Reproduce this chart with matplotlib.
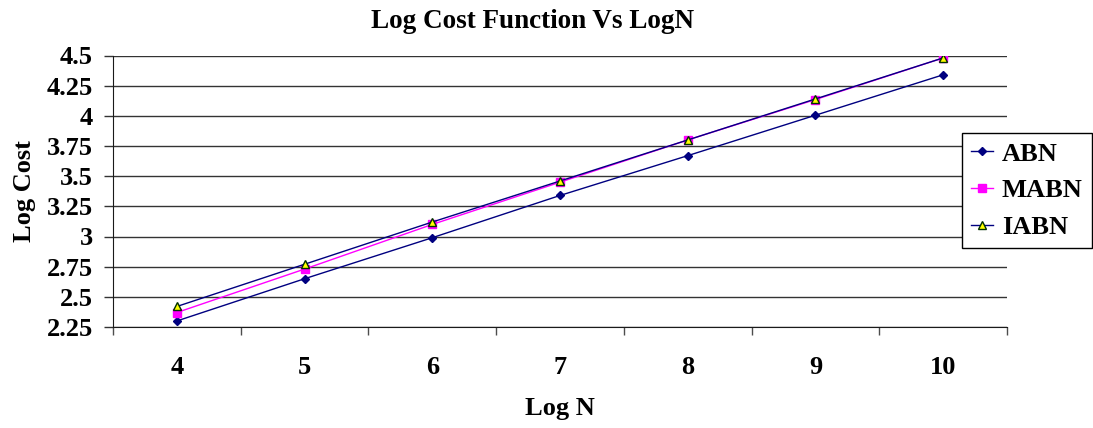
import matplotlib.pyplot as plt
from matplotlib.ticker import MultipleLocator

log_n = ["4", "5", "6", "7", "8", "9", "10"]
abn = [2.30, 2.65, 2.99, 3.34, 3.67, 4.005, 4.34]
mabn = [2.37, 2.73, 3.10, 3.45, 3.80, 4.135, 4.48]
iabn = [2.42, 2.77, 3.12, 3.46, 3.80, 4.14, 4.48]
y_ticks = [2.25, 2.5, 2.75, 3, 3.25, 3.5, 3.75, 4, 4.25, 4.5]
y_labels = ["2.25", "2.5", "2.75", "3", "3.25", "3.5", "3.75", "4", "4.25", "4.5"]

plt.rcParams['font.family'] = ['Liberation Serif', 'DejaVu Serif']
plt.rcParams['font.weight'] = 'bold'

fig = plt.figure(figsize=(10.93, 4.28), dpi=100)
ax = fig.add_axes([113 / 1093, 1 - 327 / 428, 894 / 1093, 271.5 / 428])

x = list(range(len(log_n)))
ax.plot(x, abn, color='#000080', lw=1, marker='D', ms=4.5, mfc='#000080', mec='#000080', label='ABN', zorder=3)
ax.plot(x, mabn, color='#ff00ff', lw=1, marker='s', ms=5.5, mfc='#ff00ff', mec='#ff00ff', label='MABN', zorder=4)
ax.plot(x, iabn, color='#000080', lw=1, marker='^', ms=5.5, mfc='#ffff00', mec='#003000', mew=1, label='IABN', zorder=5)

ax.set_xlim(-0.5, len(log_n) - 0.5)
ax.set_ylim(2.25, 4.5)

ax.set_xticks(x)
ax.set_xticklabels(log_n, fontsize=19, fontweight='bold')
ax.xaxis.set_minor_locator(MultipleLocator(1, offset=0.5))
ax.tick_params(axis='x', which='major', length=0, pad=21)
ax.tick_params(axis='x', which='minor', length=6, width=1, direction='out', color='0.3')

ax.set_yticks(y_ticks)
ax.set_yticklabels(y_labels, fontsize=19, fontweight='bold')
ax.tick_params(axis='y', length=6.5, width=1, direction='out', pad=8, color='0.2')

ax.yaxis.grid(True, color='0.2', lw=1)
ax.set_axisbelow(True)
for side in ['top', 'right']:
    ax.spines[side].set_visible(False)
ax.spines['left'].set_color('0.1')
ax.spines['bottom'].set_color('0.1')

# title sits centred over the whole chart area (plot + legend), not just the axes
fig.text(533 / 1093, 1 - 22 / 428, "Log Cost Function Vs LogN", fontsize=19.5,
         fontweight='bold', ha='center', va='center')
ax.set_xlabel("Log N", fontsize=19, fontweight='bold', labelpad=13)
ax.set_ylabel("Log Cost", fontsize=19, fontweight='bold', labelpad=8)

leg = ax.legend(loc='upper right', bbox_to_anchor=(1.095, 0.7145), borderaxespad=0,
                fancybox=False, edgecolor='black', framealpha=1, fontsize=19,
                handlelength=0.8, handletextpad=0.35, labelspacing=0.5, borderpad=0.35)
leg.get_frame().set_linewidth(1)

fig.savefig("out.png", dpi=100)
